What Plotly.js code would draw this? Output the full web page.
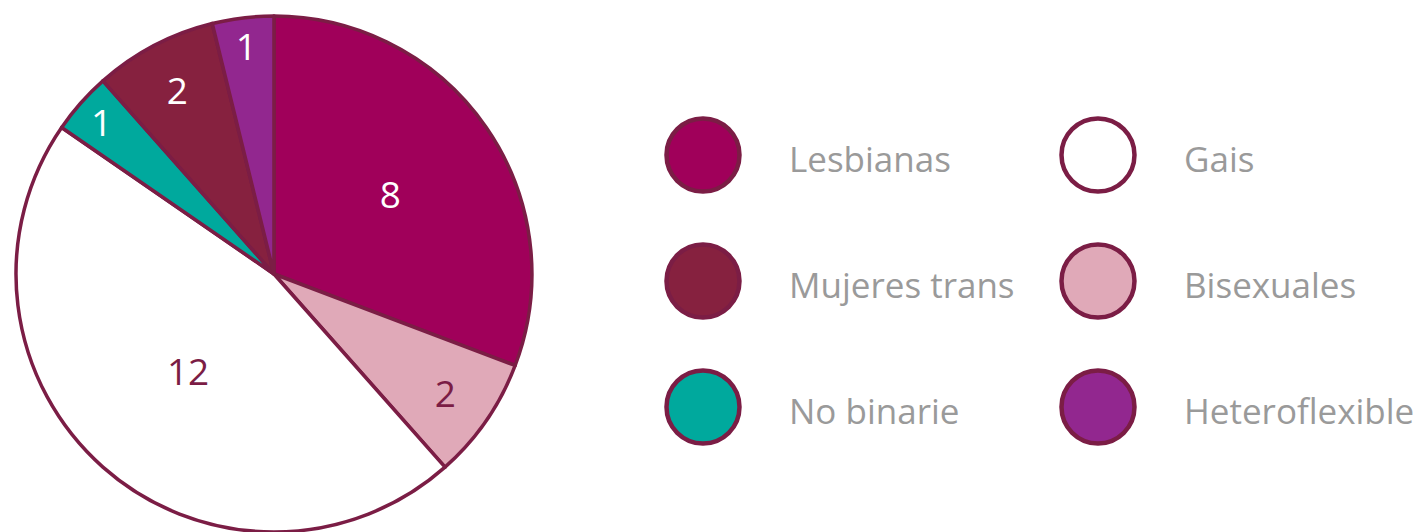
<!DOCTYPE html>
<html>
<head>
<meta charset="utf-8">
<script src="https://cdn.plot.ly/plotly-3.0.1.min.js"></script>
<style>html,body{margin:0;padding:0;background:#fff;}#chart{width:1420px;height:532px;}</style>
</head>
<body>
<div id="chart"></div>
<script>
// Pie slices, clockwise from 12 o'clock
const pieLabels = ["Lesbianas", "Bisexuales", "Gais", "No binarie", "Mujeres trans", "Heteroflexible"];
const pieValues = [8, 2, 12, 1, 2, 1];
const pieColors = ["#A0005A", "#E0A9B8", "#FFFFFF", "#00A99D", "#86213F", "#92278F"];
const pieTextColors = ["#FFFFFF", "#7B1D45", "#7B1D45", "#FFFFFF", "#FFFFFF", "#FFFFFF"];

// Legend, column by column
const legendLabels = ["Lesbianas", "Mujeres trans", "No binarie", "Gais", "Bisexuales", "Heteroflexible"];

const outline = "#7B1D45";
const colorOf = {};
pieLabels.forEach((l, i) => colorOf[l] = pieColors[i]);

const legCol = legendLabels.map((_, i) => Math.floor(i / 3));
const legRow = legendLabels.map((_, i) => i % 3);

const pie = {
  type: "pie",
  labels: pieLabels,
  values: pieValues,
  sort: false,
  direction: "clockwise",
  rotation: 0,
  textinfo: "value",
  textposition: "inside",
  insidetextorientation: "horizontal",
  textfont: {family: "Open Sans, sans-serif", size: 37, color: pieTextColors},
  marker: {colors: pieColors, line: {color: outline, width: 3.5}},
  domain: {x: [0.01127, 0.3746], y: [0, 0.9699]},
  showlegend: false,
  hoverinfo: "none"
};

const legend = {
  type: "scatter",
  mode: "markers",
  x: legCol,
  y: legRow,
  marker: {size: 73, color: legendLabels.map(l => colorOf[l]), line: {color: outline, width: 4.5}},
  showlegend: false,
  hoverinfo: "none",
  cliponaxis: false
};

const annotations = legendLabels.map((l, i) => ({
  x: legCol[i], y: legRow[i], xref: "x", yref: "y",
  text: l, showarrow: false, xanchor: "left", yanchor: "middle",
  xshift: 84, yshift: -3,
  font: {family: "Open Sans, sans-serif", size: 35, color: "#9A9A9A"}
}));

const layout = {
  width: 1420, height: 532,
  margin: {l: 0, r: 0, t: 0, b: 0},
  paper_bgcolor: "#FFFFFF", plot_bgcolor: "rgba(0,0,0,0)",
  xaxis: {domain: [0, 1], range: [-1.7797, 1.8152], visible: false, fixedrange: true},
  yaxis: {domain: [0, 1], range: [2.992, -1.2302], visible: false, fixedrange: true},
  annotations: annotations,
  hovermode: false
};

Plotly.newPlot("chart", [pie, legend], layout, {displayModeBar: false, staticPlot: true});
</script>
</body>
</html>
